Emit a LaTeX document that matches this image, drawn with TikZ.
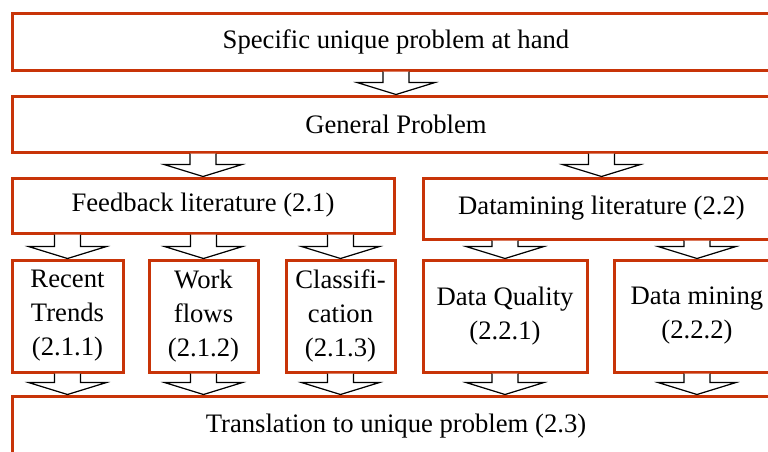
\documentclass[tikz,border=0pt]{standalone}
\usepackage{fontspec}
\setmainfont{Liberation Serif}
\definecolor{boxred}{RGB}{200,52,8}
\tikzset{
  box/.style={draw=boxred, line width=2.25pt, fill=white, inner sep=0pt,
    align=center, font=\fontsize{20}{25.5}\selectfont},
  blockarr/.style={draw=black, line width=0.9pt, fill=white, line join=miter}
}
% block arrow from the bottom of #1 to the top of #2, in the column of #3
\newcommand\flowarrow[3]{%
  \coordinate (fa-s) at (#1.south -| #3.center);
  \coordinate (fa-t) at (#2.north -| #3.center);
  \draw[blockarr] ([xshift=-9.75pt]fa-s) -- ([xshift=-9.75pt,yshift=9pt]fa-t)
    -- ([xshift=-29.25pt,yshift=9pt]fa-t) -- (fa-t)
    -- ([xshift=29.25pt,yshift=9pt]fa-t) -- ([xshift=9.75pt,yshift=9pt]fa-t)
    -- ([xshift=9.75pt]fa-s);
}
\begin{document}
\begin{tikzpicture}[x=0.75pt,y=-0.75pt]
\useasboundingbox (0,0) rectangle (768,451);
\clip (0,0) rectangle (768,451);
\fill[white] (0,0) rectangle (768,451);

\node[box, minimum width=768*0.75pt, minimum height=57*0.75pt] (top) at (396,41.5) {Specific unique problem at hand};
\node[box, minimum width=768*0.75pt, minimum height=56*0.75pt] (gen) at (396,124) {General Problem};
\node[box, minimum width=382*0.75pt, minimum height=55*0.75pt] (fb) at (203,205.5) {Feedback literature (2.1)};
\node[box, minimum width=357*0.75pt, minimum height=61*0.75pt] (dm) at (601.5,208.5) {Datamining literature (2.2)};

\node[box, minimum width=111*0.75pt, minimum height=112*0.75pt] (rt) at (67.5,316) {Recent\\Trends\\(2.1.1)};
\node[box, minimum width=109*0.75pt, minimum height=112*0.75pt] (wf) at (203.5,316) {Work\\flows\\(2.1.2)};
\node[box, minimum width=109*0.75pt, minimum height=112*0.75pt] (cl) at (340.5,316) {Classifi-\\cation\\(2.1.3)};
\node[box, minimum width=164*0.75pt, minimum height=112*0.75pt] (dq) at (505,316) {Data Quality\\(2.2.1)};
\node[box, minimum width=166*0.75pt, minimum height=112*0.75pt] (dmn) at (697,316) {Data mining\\(2.2.2)};

\node[box, minimum width=768*0.75pt, minimum height=60*0.75pt] (tr) at (396,426) {Translation to unique problem (2.3)};

\flowarrow{top}{gen}{top}
\flowarrow{gen}{fb}{fb}
\flowarrow{gen}{dm}{dm}
\flowarrow{fb}{rt}{rt}
\flowarrow{fb}{wf}{wf}
\flowarrow{fb}{cl}{cl}
\flowarrow{dm}{dq}{dq}
\flowarrow{dm}{dmn}{dmn}
\flowarrow{rt}{tr}{rt}
\flowarrow{wf}{tr}{wf}
\flowarrow{cl}{tr}{cl}
\flowarrow{dq}{tr}{dq}
\flowarrow{dmn}{tr}{dmn}
\end{tikzpicture}
\end{document}
